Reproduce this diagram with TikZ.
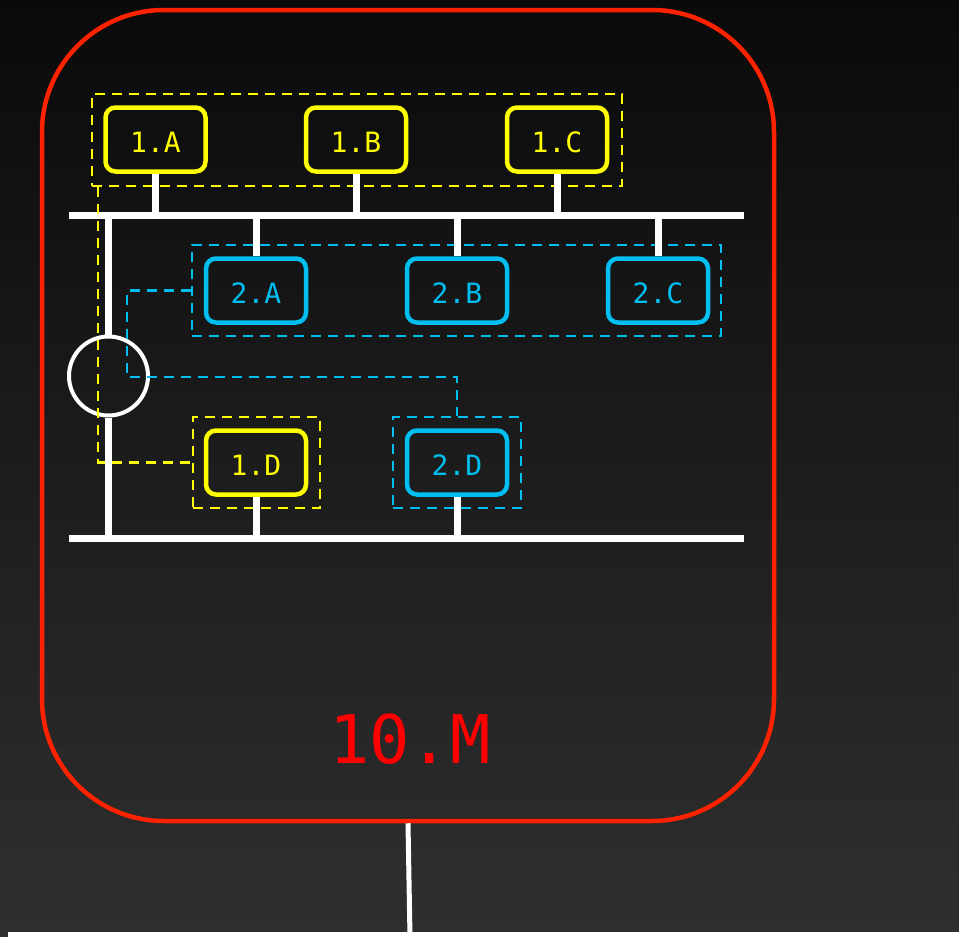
\documentclass[tikz,border=0pt]{standalone}
\usepackage{fontspec}
\setmonofont{DejaVu Sans Mono}
\definecolor{bgtop}{RGB}{10,10,10}
\definecolor{bgbot}{RGB}{47,47,47}
\definecolor{siteRed}{RGB}{255,34,0}
\definecolor{labRed}{RGB}{255,0,0}
\definecolor{ylw}{RGB}{255,255,0}
\definecolor{cyn}{RGB}{0,190,240}
\tikzset{
  box/.style={draw, line width=4.5pt, rounded corners=10pt, minimum width=100pt, minimum height=64pt, inner sep=0pt, text height=25pt, text depth=0pt, font=\ttfamily\fontsize{28}{32}\selectfont},
  ybox/.style={box, draw=ylw, text=ylw},
  cbox/.style={box, draw=cyn, text=cyn},
  bus/.style={draw=white, line width=7pt},
  stub/.style={draw=white, line width=7pt},
  grp/.style={draw, line width=2.2pt, dash pattern=on 10pt off 7pt, inner sep=0pt},
  ygrp/.style={grp, draw=ylw},
  cgrp/.style={grp, draw=cyn},
  ylink/.style={draw=ylw, line width=2.2pt, dash pattern=on 10pt off 7pt},
  clink/.style={draw=cyn, line width=2.2pt, dash pattern=on 10pt off 7pt},
}
\begin{document}
\begin{tikzpicture}[x=1pt,y=-1pt]
\useasboundingbox (0,0) rectangle (959,937);
\shade[top color=bgtop, bottom color=bgbot] (0,0) rectangle (959,937);
\fill[white] (8,932) rectangle (959,937);

% site box
\node[draw=siteRed, line width=4.5pt, rounded corners=122pt, minimum width=732pt, minimum height=811pt, inner sep=0pt] (site) at (408,415.5) {};
\node[text=labRed, font=\ttfamily\fontsize{67}{80}\selectfont, inner sep=0pt] (lab) at (410,739) {10.M};
\coordinate (down) at (410,937);
\draw[white, line width=5pt] (site.south) -- (down);

% groups
\node[ygrp, minimum width=530pt, minimum height=92pt] (g1) at (357,140) {};
\node[ygrp, minimum width=127pt, minimum height=91pt] (g1d) at (256.5,462.5) {};
\node[cgrp, minimum width=529pt, minimum height=91pt] (g2) at (456.5,290.5) {};
\node[cgrp, minimum width=128pt, minimum height=91pt] (g2d) at (457,462.5) {};

% buses
\coordinate (busTL) at (69,215.5);
\coordinate (busTR) at (744,215.5);
\coordinate (busBL) at (69,538);
\coordinate (busBR) at (744,538);
\draw[bus] (busTL) -- (busTR);
\draw[bus] (busBL) -- (busBR);

% hub
\node[draw=white, line width=4pt, circle, minimum size=79pt, inner sep=0pt] (hub) at (108.5,376) {};
\coordinate (vtop) at (108.5,212);
\coordinate (vbot) at (108.5,541);
\draw[bus] (vtop) -- (hub.north);
\draw[bus] (hub.south) -- (vbot);

% nodes
\node[ybox] (n1A) at (155.5,139.5) {1.A};
\node[ybox] (n1B) at (356,139.5) {1.B};
\node[ybox] (n1C) at (557,139.5) {1.C};
\node[cbox] (n2A) at (256,290.5) {2.A};
\node[cbox] (n2B) at (457,290.5) {2.B};
\node[cbox] (n2C) at (658,290.5) {2.C};
\node[ybox] (n1D) at (256,462.5) {1.D};
\node[cbox] (n2D) at (457,462.5) {2.D};

% stubs
\foreach \n in {n1A,n1B,n1C}{\draw[stub] (\n.south) -- (\n.south |- busTL);}
\foreach \n in {n2A,n2B,n2C}{\draw[stub] (\n.north) -- (\n.north |- busTL);}
\foreach \n in {n1D,n2D}{\draw[stub] (\n.south) -- (\n.south |- busBL);}

% dashed links
\draw[ylink] ([xshift=7pt]g1.south west) |- (g1d.west);
\coordinate (cbend) at (127,377);
\draw[clink] (g2.west) -| (cbend) -| (g2d.north);
\end{tikzpicture}
\end{document}
